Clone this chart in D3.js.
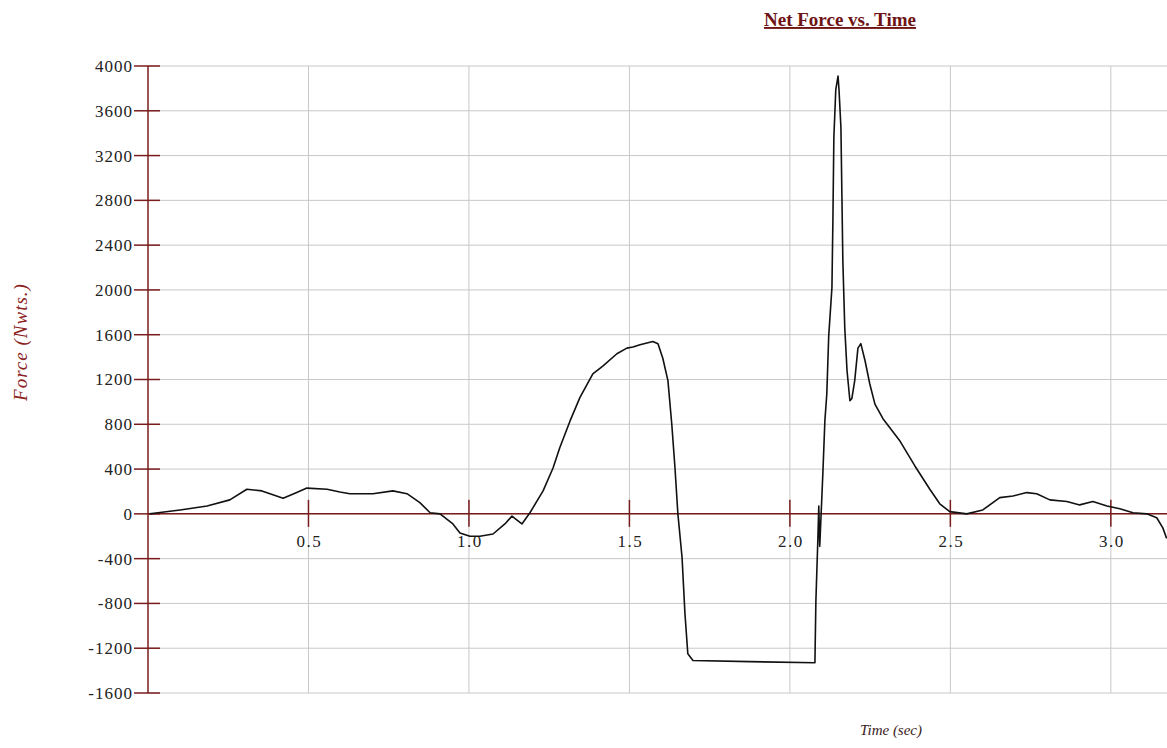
<!DOCTYPE html>
<html><head><meta charset="utf-8">
<script src="https://cdn.jsdelivr.net/npm/d3@7"></script>
<style>body{margin:0;background:#fff;}svg{display:block;}</style>
</head><body>
<svg id="chart" width="1167" height="748"></svg>
<script>
const title = "Net Force vs. Time";
const xTitle = "Time (sec)";
const yTitle = "Force (Nwts.)";
const xTicks = [0.5, 1.0, 1.5, 2.0, 2.5, 3.0];
const yTicks = [-1600, -1200, -800, -400, 0, 400, 800, 1200, 1600, 2000, 2400, 2800, 3200, 3600, 4000];
const time = [0.005,0.031,0.100,0.184,0.255,0.308,0.355,0.421,0.458,0.495,0.558,0.598,0.629,0.701,0.763,0.807,0.847,0.879,0.910,0.950,0.972,1.003,1.034,1.075,1.112,1.134,1.165,1.190,1.231,1.262,1.283,1.315,1.346,1.386,1.417,1.461,1.492,1.511,1.533,1.573,1.589,1.604,1.620,1.632,1.642,1.651,1.664,1.673,1.682,1.698,1.875,2.078,2.081,2.087,2.090,2.093,2.103,2.109,2.115,2.121,2.131,2.134,2.137,2.143,2.150,2.153,2.159,2.162,2.165,2.171,2.178,2.187,2.193,2.202,2.212,2.221,2.234,2.249,2.265,2.290,2.343,2.389,2.436,2.467,2.498,2.551,2.601,2.654,2.695,2.738,2.769,2.810,2.863,2.903,2.944,2.988,3.028,3.069,3.112,3.143,3.162,3.174];
const force = [0,10,35,70,125,220,205,140,185,230,220,195,180,180,205,180,100,10,0,-90,-170,-200,-200,-180,-90,-20,-90,10,205,410,590,830,1040,1250,1320,1430,1480,1490,1510,1540,1520,1390,1190,800,410,0,-390,-890,-1250,-1310,-1320,-1330,-780,-240,70,-290,380,830,1070,1590,2020,2620,3360,3790,3910,3790,3450,2860,2260,1660,1280,1010,1030,1190,1480,1520,1370,1160,980,850,650,430,220,90,20,0,35,145,160,190,180,125,110,80,110,70,45,10,0,-35,-125,-220];

const svg = d3.select("#chart");
const x = d3.scaleLinear().domain([0, 3.175]).range([148, 1167]);
const y = d3.scaleLinear().domain([-1600, 4000]).range([693, 66]);
const axisColor = "#7a1c1c";
const gridColor = "#c8c8c8";
const serif = "'Liberation Serif','Times New Roman',serif";

// grid
svg.append("g").selectAll("line").data(yTicks).join("line")
  .attr("x1", x(0)).attr("x2", 1167)
  .attr("y1", d => y(d)).attr("y2", d => y(d))
  .attr("stroke", gridColor).attr("stroke-width", 1);
svg.append("g").selectAll("line").data(xTicks).join("line")
  .attr("x1", d => x(d)).attr("x2", d => x(d))
  .attr("y1", y(4000)).attr("y2", y(-1600))
  .attr("stroke", gridColor).attr("stroke-width", 1);

// axes lines
svg.append("line").attr("x1", x(0)).attr("x2", x(0)).attr("y1", y(4000)).attr("y2", y(-1600))
  .attr("stroke", axisColor).attr("stroke-width", 1.5);
svg.append("line").attr("x1", x(0)).attr("x2", 1167).attr("y1", y(0)).attr("y2", y(0))
  .attr("stroke", axisColor).attr("stroke-width", 1.5);

// y ticks
svg.append("g").selectAll("line").data(yTicks).join("line")
  .attr("x1", x(0) - 14).attr("x2", x(0) + 12)
  .attr("y1", d => y(d)).attr("y2", d => y(d))
  .attr("stroke", axisColor).attr("stroke-width", 1.5);
svg.append("g").selectAll("text").data(yTicks).join("text")
  .attr("x", x(0) - 15).attr("y", d => y(d)).attr("dy", "0.35em")
  .attr("text-anchor", "end").attr("font-family", serif).attr("font-size", 17)
  .attr("letter-spacing", 1)
  .attr("fill", "#222").text(d => d);

// x ticks
svg.append("g").selectAll("line").data(xTicks).join("line")
  .attr("x1", d => x(d)).attr("x2", d => x(d))
  .attr("y1", y(0) - 14).attr("y2", y(0) + 13)
  .attr("stroke", axisColor).attr("stroke-width", 1.5);
svg.append("g").selectAll("text").data(xTicks).join("text")
  .attr("x", d => x(d) + 1).attr("y", y(0) + 27).attr("dy", "0.35em")
  .attr("text-anchor", "middle").attr("font-family", serif).attr("font-size", 17)
  .attr("letter-spacing", 1.5)
  .attr("fill", "#222").text(d => d.toFixed(1));

// curve
const pts = time.map((t, i) => [t, force[i]]);
svg.append("path").datum(pts)
  .attr("d", d3.line().x(d => x(d[0])).y(d => y(d[1])))
  .attr("fill", "none").attr("stroke", "#111").attr("stroke-width", 1.6)
  .attr("stroke-linejoin", "round");

// titles
svg.append("text").attr("x", 840).attr("y", 26).attr("text-anchor", "middle")
  .attr("font-family", serif).attr("font-size", 19).attr("font-weight", "bold")
  .attr("text-decoration", "underline").attr("fill", "#6e1414").text(title);
svg.append("text").attr("x", 891).attr("y", 735).attr("text-anchor", "middle")
  .attr("font-family", serif).attr("font-size", 15).attr("font-style", "italic")
  .attr("fill", "#3a1a1a").text(xTitle);
svg.append("text").attr("transform", "translate(27,342) rotate(-90)").attr("text-anchor", "middle")
  .attr("font-family", serif).attr("font-size", 19).attr("font-style", "italic")
  .attr("letter-spacing", 1)
  .attr("fill", "#8a2020").text(yTitle);
</script>
</body></html>
